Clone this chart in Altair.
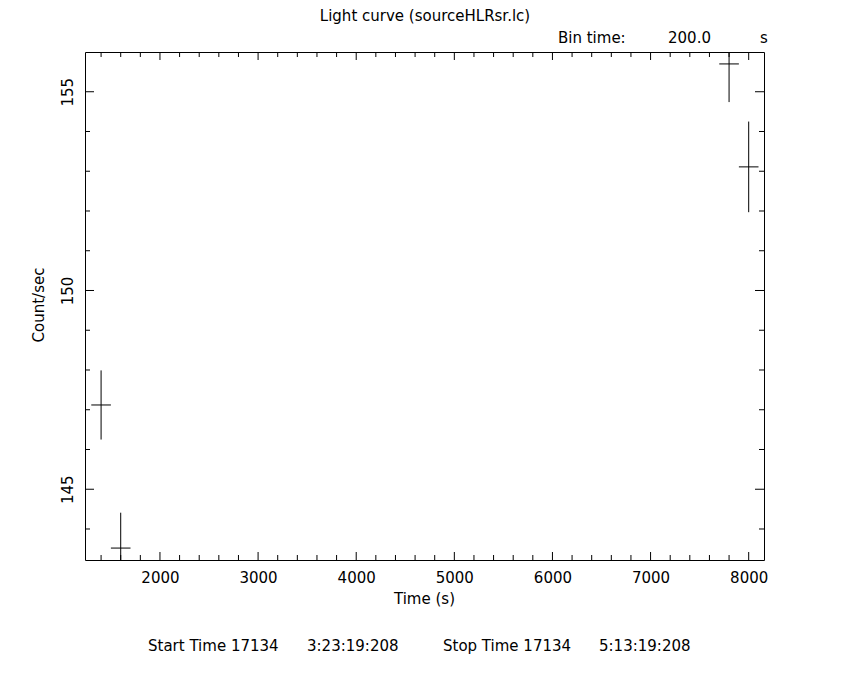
import altair as alt
import pandas as pd

# ---- data ----
time_s = [1400, 1600, 7800, 8000]
rate = [147.12, 143.52, 155.70, 153.11]
rate_err = [0.87, 0.89, 0.96, 1.14]
half_bin = [100, 100, 100, 100]

x_major = [2000, 3000, 4000, 5000, 6000, 7000, 8000]
x_minor = [1400, 1600, 1800, 2200, 2400, 2600, 2800, 3200, 3400, 3600, 3800,
           4200, 4400, 4600, 4800, 5200, 5400, 5600, 5800, 6200, 6400, 6600,
           6800, 7200, 7400, 7600, 7800]
y_major = [145, 150, 155]
y_minor = [144, 146, 147, 148, 149, 151, 152, 153, 154]

X_DOMAIN = [1236, 8156]
Y_DOMAIN = [143.22, 156.0]

W, H = 679, 508
FONT = "DejaVu Sans"
FS = 15

df = pd.DataFrame({"t": time_s, "rate": rate, "err": rate_err, "hb": half_bin})
df["lo"] = df["rate"] - df["err"]
df["hi"] = df["rate"] + df["err"]
df["t0"] = df["t"] - df["hb"]
df["t1"] = df["t"] + df["hb"]

xs = alt.Scale(domain=X_DOMAIN, nice=False, zero=False)
ys = alt.Scale(domain=Y_DOMAIN, nice=False, zero=False)

xaxis = alt.Axis(values=x_major, format="d", ticks=False, domain=False, grid=False,
                 title=None, labelFont=FONT, labelFontSize=FS, labelColor="black",
                 labelBaseline="middle", labelPadding=17)
yaxis = alt.Axis(values=y_major, format="d", ticks=False, domain=False, grid=False,
                 title=None, labelFont=FONT, labelFontSize=FS, labelColor="black",
                 labelAngle=270, labelAlign="center", labelBaseline="middle",
                 labelPadding=18)

base = alt.Chart(df)

vbars = base.mark_rule(color="black", strokeWidth=1, clip=True).encode(
    x=alt.X("t:Q", scale=xs, axis=xaxis),
    y=alt.Y("lo:Q", scale=ys, axis=yaxis),
    y2="hi:Q",
)
hbars = base.mark_rule(color="black", strokeWidth=1, clip=True).encode(
    x=alt.X("t0:Q", scale=xs),
    x2="t1:Q",
    y=alt.Y("rate:Q", scale=ys),
)

xmaj = pd.DataFrame({"v": x_major})
xmin = pd.DataFrame({"v": x_minor})
ymaj = pd.DataFrame({"v": y_major})
ymin = pd.DataFrame({"v": y_minor})


def xticks(d, length):
    bottom = alt.Chart(d).mark_rule(color="black", strokeWidth=1).encode(
        x=alt.X("v:Q", scale=xs), y=alt.value(H), y2=alt.value(H - length))
    top = alt.Chart(d).mark_rule(color="black", strokeWidth=1).encode(
        x=alt.X("v:Q", scale=xs), y=alt.value(0), y2=alt.value(length))
    return [bottom, top]


def yticks(d, length):
    left = alt.Chart(d).mark_rule(color="black", strokeWidth=1).encode(
        y=alt.Y("v:Q", scale=ys), x=alt.value(0), x2=alt.value(length))
    right = alt.Chart(d).mark_rule(color="black", strokeWidth=1).encode(
        y=alt.Y("v:Q", scale=ys), x=alt.value(W), x2=alt.value(W - length))
    return [left, right]


def label(text, x, y, align="left", angle=0, baseline="alphabetic"):
    return alt.Chart(alt.Data(values=[{"k": 0}])).mark_text(
        text=text, align=align, baseline=baseline, angle=angle,
        font=FONT, fontSize=FS, color="black").encode(
        x=alt.value(x), y=alt.value(y))


ticks = xticks(xmaj, 8) + xticks(xmin, 5) + yticks(ymaj, 9) + yticks(ymin, 5)

texts = [
    label("Light curve (sourceHLRsr.lc)", 340, -31, align="center"),
    label("Bin time:", 473, -9),
    label("200.0", 583, -9),
    label("s", 675, -9),
    label("Time (s)", 339.5, 552, align="center"),
    label("Count/sec", -46, 253, align="center", angle=270, baseline="middle"),
    label("Start Time 17134", 63, 599),
    label("3:23:19:208", 222, 599),
    label("Stop Time 17134", 358, 599),
    label("5:13:19:208", 514, 599),
]

chart = alt.layer(vbars, hbars, *ticks, *texts).properties(
    width=W, height=H,
    autosize=alt.AutoSizeParams(type="none"),
    padding={"left": 77, "top": 44, "right": 70, "bottom": 100},
    background="white",
).configure_view(stroke="black", strokeWidth=1)

chart.save("out.html", embed_options={"renderer": "svg", "actions": False})
